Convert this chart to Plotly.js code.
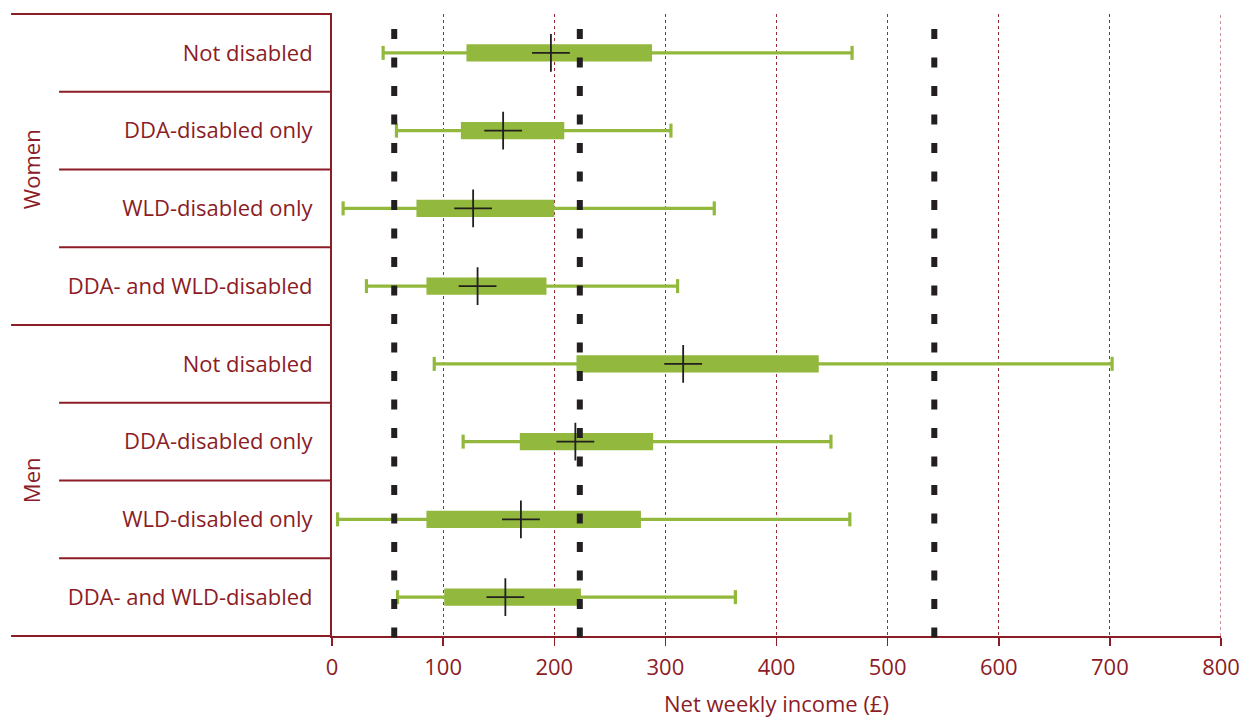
<!DOCTYPE html>
<html>
<head>
<meta charset="utf-8">
<script src="https://cdn.plot.ly/plotly-3.0.1.min.js"></script>
<style>html,body{margin:0;padding:0;background:#fff;}#chart{width:1243px;height:718px;}</style>
</head>
<body>
<div id="chart"></div>
<script>
// ---- data ----
const groups = ['Women','Women','Women','Women','Men','Men','Men','Men'];
const categories = ['Not disabled','DDA-disabled only','WLD-disabled only','DDA- and WLD-disabled',
                    'Not disabled','DDA-disabled only','WLD-disabled only','DDA- and WLD-disabled'];
const whiskerLow  = [46, 58, 10, 31, 92, 118, 5, 59];
const boxLow      = [121, 116, 76, 85, 220, 169, 85, 101];
const boxHigh     = [288, 209, 200, 193, 438, 289, 278, 224];
const whiskerHigh = [468, 305, 344, 311, 702, 449, 466, 363];
const centre      = [197, 154, 127, 131, 316, 219, 170, 156];
const referenceLines = [56, 223, 542];
const xTicks = [0, 100, 200, 300, 400, 500, 600, 700, 800];
const groupNames = ['Women', 'Men'];

// ---- styling ----
const RED = '#8c1c26';
const GREEN = '#92b83d';
const BLACK = '#231f20';
const FONT = 'Open Sans, Noto Sans, sans-serif';

const ids = categories.map((c, i) => groups[i] + ' | ' + c);

// whiskers as line segments
const wx = [], wy = [];
ids.forEach((id, i) => { wx.push(whiskerLow[i], whiskerHigh[i], null); wy.push(id, id, null); });

const traces = [
  { type: 'scatter', mode: 'lines', x: wx, y: wy,
    line: { color: GREEN, width: 3.2 }, hoverinfo: 'skip', showlegend: false },
  { type: 'scatter', mode: 'markers', x: whiskerLow.concat(whiskerHigh), y: ids.concat(ids),
    marker: { symbol: 'line-ns', size: 10, line: { color: GREEN, width: 3.2 } },
    hoverinfo: 'skip', showlegend: false },
  { type: 'bar', orientation: 'h', y: ids, base: boxLow,
    x: boxHigh.map((h, i) => h - boxLow[i]), width: 0.22,
    marker: { color: GREEN, line: { width: 0 } }, hoverinfo: 'skip', showlegend: false },
  { type: 'scatter', mode: 'markers', x: centre, y: ids,
    marker: { symbol: 'cross-thin', size: 27, color: BLACK, line: { color: BLACK, width: 1.8 } },
    hoverinfo: 'skip', showlegend: false }
];

const shapes = [];
// last gridline sits on the plot edge, which Plotly does not draw
shapes.push({
  type: 'line', xref: 'x', yref: 'paper', x0: xTicks[xTicks.length - 1], x1: xTicks[xTicks.length - 1],
  y0: 0, y1: 1, line: { color: '#9a2a34', width: 1, dash: 'dot' }, layer: 'below'
});
referenceLines.forEach(v => shapes.push({
  type: 'line', xref: 'x', yref: 'paper', x0: v, x1: v, y0: 0.976, y1: -0.014,
  line: { color: BLACK, width: 6, dash: '10px,18.5px' }, layer: 'above'
}));
for (let k = 0; k <= 8; k++) {
  const full = (k % 4 === 0);
  shapes.push({
    type: 'line', xref: 'paper', yref: 'paper',
    x0: full ? -0.361 : -0.307, x1: 0, y0: 1 - k / 8, y1: 1 - k / 8,
    line: { color: RED, width: 2 }, layer: 'above'
  });
}

const annotations = groupNames.map((g, i) => ({
  xref: 'paper', yref: 'paper', x: -0.339, y: 0.75 - 0.5 * i,
  text: g, showarrow: false, textangle: -90,
  font: { family: FONT, size: 22, color: RED }, xanchor: 'center', yanchor: 'middle'
}));

const layout = {
  width: 1243, height: 718,
  margin: { l: 332, r: 22, t: 14, b: 82 },
  paper_bgcolor: '#fff', plot_bgcolor: '#fff',
  font: { family: FONT, color: RED, size: 22 },
  showlegend: false, hovermode: false, barmode: 'overlay',
  xaxis: {
    range: [0, 800], tickvals: xTicks, ticktext: xTicks.map(String),
    showgrid: true, gridcolor: '#9a2a34', gridwidth: 1, griddash: 'dot',
    zeroline: false, showline: true, linecolor: RED, linewidth: 2,
    ticks: 'outside', ticklen: 8, tickwidth: 1.5, tickcolor: RED,
    ticklabelstandoff: 3,
    tickfont: { family: FONT, size: 22, color: RED },
    title: { text: 'Net weekly income (£)', font: { family: FONT, size: 22, color: RED }, standoff: 18 },
    fixedrange: true
  },
  yaxis: {
    type: 'category', categoryorder: 'array', categoryarray: ids,
    tickvals: ids, ticktext: categories,
    range: [7.5, -0.5],
    showgrid: false, zeroline: false, showline: true, linecolor: RED, linewidth: 2,
    ticks: '', ticklabelstandoff: 13,
    tickfont: { family: FONT, size: 22, color: RED },
    fixedrange: true
  },
  shapes: shapes,
  annotations: annotations
};

Plotly.newPlot('chart', traces, layout, { displayModeBar: false, staticPlot: true });
</script>
</body>
</html>
